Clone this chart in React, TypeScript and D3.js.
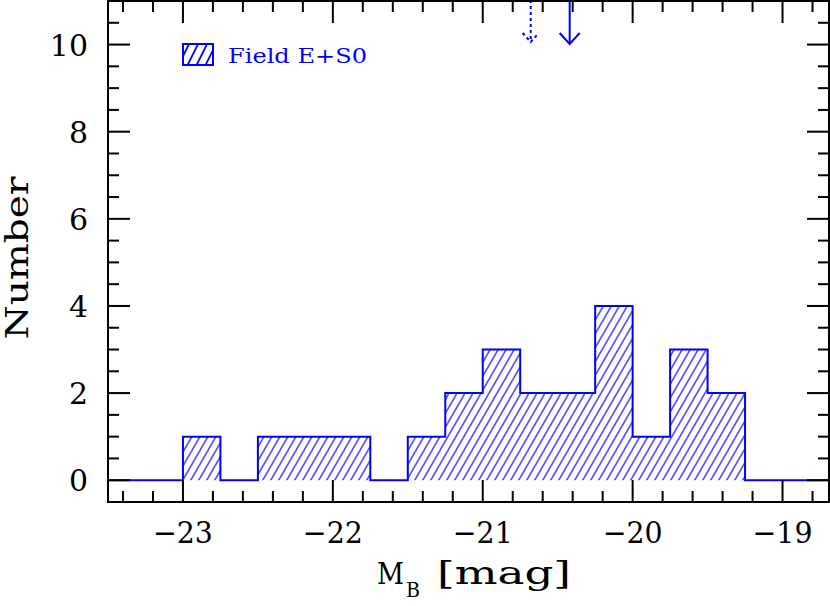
import React from 'react';
import * as d3 from 'd3';

// histogram of field E+S0 absolute magnitudes (bin width 0.25 mag)
const binStarts = [-23, -22.75, -22.5, -22.25, -22, -21.75, -21.5, -21.25, -21, -20.75, -20.5, -20.25, -20, -19.75, -19.5];
const counts = [1, 0, 1, 1, 1, 0, 1, 2, 3, 2, 2, 4, 1, 3, 2];
const binWidth = 0.25;

// mean / median markers at the top
const markerValues = [-20.68, -20.42];
const markerDashed = [true, false];

const xTicks = [-23, -22, -21, -20, -19];
const yTicks = [0, 2, 4, 6, 8, 10];
const legendLabel = 'Field E+S0';

const W = 830, H = 606;
const margin = { left: 108, right: 1, top: 1, bottom: 104 };
const blue = '#0000ff';
const font = "'DejaVu Serif', serif";

export default function App() {
  const x = d3.scaleLinear().domain([-23.5, -18.69]).range([margin.left, W - margin.right]);
  const y = d3.scaleLinear().domain([-0.5, 11]).range([H - margin.bottom, margin.top]);

  const x0 = x.range()[0], x1 = x.range()[1];
  const y0 = y.range()[0], y1 = y.range()[1];

  const pts: [number, number][] = [[-23.5, 0]];
  binStarts.forEach((b, i) => pts.push([b, counts[i]]));
  pts.push([binStarts[binStarts.length - 1] + binWidth, 0]);
  pts.push([-18.69, 0]);

  const line = d3.line<[number, number]>()
    .x(d => x(d[0]))
    .y(d => y(d[1]))
    .curve(d3.curveStepAfter);

  const area = d3.area<[number, number]>()
    .x(d => x(d[0]))
    .y0(y(0))
    .y1(d => y(d[1]))
    .curve(d3.curveStepAfter);

  const xMinor = d3.range(-23.4, -18.69, 0.2).filter(v => Math.abs(v - Math.round(v)) > 0.01);
  const yMinor = d3.range(-0.5, 11.01, 0.5).filter(v => Math.abs(v / 2 - Math.round(v / 2)) > 0.01);

  const major = 22, minor = 11;

  return (
    <svg width={W} height={H} style={{ position: 'absolute', left: 0, top: 0 }}>
      <defs>
        <pattern id="hatch" patternUnits="userSpaceOnUse" width="8" height="16" patternTransform="skewX(-30)">
          <line x1="4" y1="0" x2="4" y2="16" stroke={blue} strokeWidth="1.3" />
        </pattern>
        <pattern id="hatchL" patternUnits="userSpaceOnUse" width="9" height="20" patternTransform="skewX(-26.5)">
          <line x1="4" y1="0" x2="4" y2="20" stroke={blue} strokeWidth="2" />
        </pattern>
      </defs>
      <rect width={W} height={H} fill="white" />

      <path d={area(pts) || ''} fill="url(#hatch)" />
      <path d={line(pts) || ''} fill="none" stroke={blue} strokeWidth={2} />

      {/* markers */}
      {markerValues.map((v, i) => {
        const mx = x(v);
        const dashed = markerDashed[i];
        const tip = dashed ? 42 : 44;
        const hw = dashed ? 8 : 10;
        const hh = dashed ? 9 : 11;
        return (
          <g key={i} stroke={blue} strokeWidth={2} fill="none" strokeDasharray={dashed ? '3,3' : undefined}>
            <line x1={mx} y1={0} x2={mx} y2={tip} />
            <polyline points={`${mx - hw},${tip - hh} ${mx},${tip} ${mx + hw},${tip - hh}`} />
          </g>
        );
      })}

      {/* frame */}
      <rect x={x0} y={y1} width={x1 - x0} height={y0 - y1} fill="none" stroke="black" strokeWidth={2} />

      {/* x ticks */}
      {xTicks.map(t => (
        <g key={'xt' + t}>
          <line x1={x(t)} x2={x(t)} y1={y0} y2={y0 - major} stroke="black" strokeWidth={2} />
          <line x1={x(t)} x2={x(t)} y1={y1} y2={y1 + major} stroke="black" strokeWidth={2} />
          <text x={x(t)} y={543} textAnchor="middle" fontFamily={font} fontSize={30} textLength={60} lengthAdjust="spacingAndGlyphs">{'\u2212' + Math.abs(t)}</text>
        </g>
      ))}
      {xMinor.map((t, i) => (
        <g key={'xm' + i}>
          <line x1={x(t)} x2={x(t)} y1={y0} y2={y0 - minor} stroke="black" strokeWidth={2} />
          <line x1={x(t)} x2={x(t)} y1={y1} y2={y1 + minor} stroke="black" strokeWidth={2} />
        </g>
      ))}

      {/* y ticks */}
      {yTicks.map(t => (
        <g key={'yt' + t}>
          <line x1={x0} x2={x0 + major} y1={y(t)} y2={y(t)} stroke="black" strokeWidth={2} />
          <line x1={x1} x2={x1 - major} y1={y(t)} y2={y(t)} stroke="black" strokeWidth={2} />
          <text x={88} y={y(t) + 11} textAnchor="end" fontFamily={font} fontSize={30}>{t}</text>
        </g>
      ))}
      {yMinor.map((t, i) => (
        <g key={'ym' + i}>
          <line x1={x0} x2={x0 + minor} y1={y(t)} y2={y(t)} stroke="black" strokeWidth={2} />
          <line x1={x1} x2={x1 - minor} y1={y(t)} y2={y(t)} stroke="black" strokeWidth={2} />
        </g>
      ))}

      {/* axis titles */}
      <text x={377} y={584} fontFamily={font} fontSize={30} textLength={27} lengthAdjust="spacingAndGlyphs">M</text>
      <text x={406} y={597} fontFamily={font} fontSize={20} textLength={14} lengthAdjust="spacingAndGlyphs">B</text>
      <text x={437} y={584} fontFamily={font} fontSize={31} textLength={134} lengthAdjust="spacingAndGlyphs">[mag]</text>
      <text transform={`translate(28,258) rotate(-90)`} textAnchor="middle" fontFamily={font} fontSize={31} textLength={163} lengthAdjust="spacingAndGlyphs">Number</text>

      {/* legend */}
      <rect x={183} y={44} width={30} height={21} fill="url(#hatchL)" stroke={blue} strokeWidth={2} />
      <text x={228} y={63} fontFamily={font} fontSize={20} fill={blue} textLength={139} lengthAdjust="spacingAndGlyphs">{legendLabel}</text>
    </svg>
  );
}
